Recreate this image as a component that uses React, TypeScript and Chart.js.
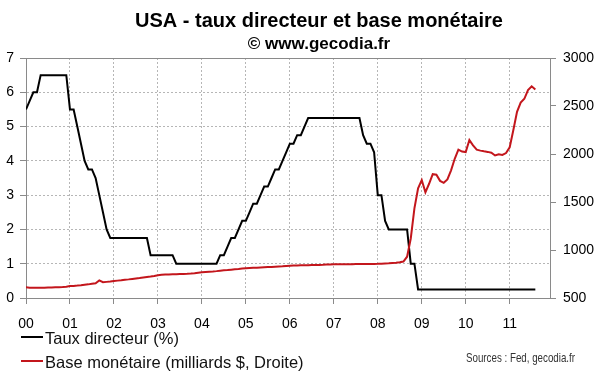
import React, { useEffect, useRef } from 'react';
import { Chart, registerables } from 'chart.js';

Chart.register(...registerables);

// ---------- DATA ----------
const START_YEAR = 2000;
const yearTicks = [2000, 2001, 2002, 2003, 2004, 2005, 2006, 2007, 2008, 2009, 2010, 2011];
const yearLabels = ['00', '01', '02', '03', '04', '05', '06', '07', '08', '09', '10', '11'];
const leftTicks = [0, 1, 2, 3, 4, 5, 6, 7];
const rightTicks = [500, 1000, 1500, 2000, 2500, 3000];

// Fed target rate (%), monthly, Jan 2000 -> Aug 2011
const taux2000 = [5.5, 5.75, 6.0, 6.0, 6.5, 6.5, 6.5, 6.5, 6.5, 6.5, 6.5, 6.5];
const taux2001 = [5.5, 5.5, 5.0, 4.5, 4.0, 3.75, 3.75, 3.5, 3.0, 2.5, 2.0, 1.75];
const taux2002 = [1.75, 1.75, 1.75, 1.75, 1.75, 1.75, 1.75, 1.75, 1.75, 1.75, 1.25, 1.25];
const taux2003 = [1.25, 1.25, 1.25, 1.25, 1.25, 1.0, 1.0, 1.0, 1.0, 1.0, 1.0, 1.0];
const taux2004 = [1.0, 1.0, 1.0, 1.0, 1.0, 1.25, 1.25, 1.5, 1.75, 1.75, 2.0, 2.25];
const taux2005 = [2.25, 2.5, 2.75, 2.75, 3.0, 3.25, 3.25, 3.5, 3.75, 3.75, 4.0, 4.25];
const taux2006 = [4.5, 4.5, 4.75, 4.75, 5.0, 5.25, 5.25, 5.25, 5.25, 5.25, 5.25, 5.25];
const taux2007 = [5.25, 5.25, 5.25, 5.25, 5.25, 5.25, 5.25, 5.25, 4.75, 4.5, 4.5, 4.25];
const taux2008 = [3.0, 3.0, 2.25, 2.0, 2.0, 2.0, 2.0, 2.0, 2.0, 1.0, 1.0, 0.25];
const taux2009 = [0.25, 0.25, 0.25, 0.25, 0.25, 0.25, 0.25, 0.25, 0.25, 0.25, 0.25, 0.25];
const taux2010 = [0.25, 0.25, 0.25, 0.25, 0.25, 0.25, 0.25, 0.25, 0.25, 0.25, 0.25, 0.25];
const taux2011 = [0.25, 0.25, 0.25, 0.25, 0.25, 0.25, 0.25, 0.25];

// Monetary base (billions $), monthly, Jan 2000 -> Aug 2011
const base2000 = [611, 608, 606, 607, 608, 607, 609, 610, 611, 612, 614, 618];
const base2001 = [624, 626, 629, 633, 638, 642, 648, 654, 683, 664, 668, 672];
const base2002 = [677, 681, 685, 690, 694, 699, 704, 708, 713, 718, 723, 730];
const base2003 = [738, 742, 744, 746, 747, 748, 749, 750, 752, 755, 759, 764];
const base2004 = [767, 770, 773, 776, 780, 785, 788, 791, 795, 799, 803, 808];
const base2005 = [810, 812, 814, 816, 818, 820, 822, 824, 826, 828, 830, 834];
const base2006 = [837, 838, 839, 840, 841, 842, 843, 844, 845, 846, 848, 850];
const base2007 = [851, 851, 851, 852, 852, 852, 853, 853, 853, 854, 854, 855];
const base2008 = [856, 858, 860, 862, 865, 868, 872, 880, 930, 1120, 1434, 1643];
const base2009 = [1729, 1600, 1690, 1790, 1785, 1720, 1700, 1735, 1830, 1950, 2045, 2025];
const base2010 = [2020, 2145, 2090, 2045, 2035, 2028, 2022, 2014, 1985, 1998, 1990, 2010];
const base2011 = [2070, 2250, 2440, 2535, 2575, 2665, 2705, 2672];

const tauxDirecteur = [
  ...taux2000, ...taux2001, ...taux2002, ...taux2003, ...taux2004, ...taux2005,
  ...taux2006, ...taux2007, ...taux2008, ...taux2009, ...taux2010, ...taux2011,
];
const baseMonetaire = [
  ...base2000, ...base2001, ...base2002, ...base2003, ...base2004, ...base2005,
  ...base2006, ...base2007, ...base2008, ...base2009, ...base2010, ...base2011,
];

const TITLE = 'USA - taux directeur et base monétaire';
const SUBTITLE = '© www.gecodia.fr';
const LEGEND_1 = 'Taux directeur (%)';
const LEGEND_2 = 'Base monétaire (milliards $, Droite)';
const SOURCES = 'Sources : Fed, gecodia.fr';

const FONT = '"Liberation Sans", Arial, Helvetica, sans-serif';
const BLACK = '#000000';
const RED = '#c3161c';
const AXIS = '#8a8a8a';
const GRID = '#b6b6b6';

const toPoints = (vals: number[]) => vals.map((v, i) => ({ x: START_YEAR + i / 12, y: v }));

const decorPlugin = {
  id: 'decor',
  afterDraw(chart: any) {
    const ctx = chart.ctx as CanvasRenderingContext2D;
    const ca = chart.chartArea;
    ctx.save();
    // top frame line
    ctx.strokeStyle = AXIS;
    ctx.lineWidth = 1;
    ctx.beginPath();
    ctx.moveTo(ca.left, Math.round(ca.top) + 0.5);
    ctx.lineTo(ca.right, Math.round(ca.top) + 0.5);
    ctx.stroke();

    // titles
    ctx.fillStyle = '#000';
    ctx.textAlign = 'center';
    ctx.textBaseline = 'alphabetic';
    ctx.font = `bold 20px ${FONT}`;
    ctx.fillText(TITLE, 319, 27);
    ctx.font = `bold 17px ${FONT}`;
    ctx.fillText(SUBTITLE, 319, 49);

    // legend
    ctx.textAlign = 'left';
    ctx.lineWidth = 2;
    ctx.strokeStyle = BLACK;
    ctx.beginPath();
    ctx.moveTo(21, 337);
    ctx.lineTo(43, 337);
    ctx.stroke();
    ctx.strokeStyle = RED;
    ctx.beginPath();
    ctx.moveTo(21, 361);
    ctx.lineTo(43, 361);
    ctx.stroke();
    ctx.fillStyle = '#111';
    ctx.font = `16.5px ${FONT}`;
    ctx.fillText(LEGEND_1, 45, 343.5);
    ctx.fillText(LEGEND_2, 45, 367.5);

    // sources (condensed)
    ctx.font = `13px "Liberation Sans Narrow", ${FONT}`;
    ctx.fillStyle = '#333';
    const w = ctx.measureText(SOURCES).width;
    const target = 109;
    const sx = w > target ? target / w : 1;
    ctx.translate(466, 362);
    ctx.scale(sx, 1);
    ctx.fillText(SOURCES, 0, 0);
    ctx.restore();
  },
};

export default function App() {
  const ref = useRef<HTMLCanvasElement | null>(null);

  useEffect(() => {
    document.body.style.margin = '0';
    const canvas = ref.current;
    if (!canvas) return;
    const tickFont = { family: FONT, size: 14 };
    const gridOpts = {
      color: GRID,
      lineWidth: 1,
      tickLength: 6,
      tickColor: AXIS,
      drawTicks: true,
      drawOnChartArea: true,
    };
    const chart = new Chart(canvas, {
      type: 'line',
      data: {
        datasets: [
          {
            label: LEGEND_2,
            data: toPoints(baseMonetaire),
            yAxisID: 'y1',
            borderColor: RED,
            backgroundColor: RED,
            borderWidth: 2,
            pointRadius: 0,
            tension: 0,
            order: 0,
          },
          {
            label: LEGEND_1,
            data: toPoints(tauxDirecteur),
            yAxisID: 'y',
            borderColor: BLACK,
            backgroundColor: BLACK,
            borderWidth: 2,
            pointRadius: 0,
            tension: 0,
            order: 1,
          },
        ],
      },
      options: {
        responsive: false,
        animation: false,
        devicePixelRatio: 1,
        layout: { padding: { top: 58, left: 0, right: 0, bottom: 0 } },
        plugins: {
          legend: { display: false },
          title: { display: false },
          tooltip: { enabled: false },
        },
        scales: {
          x: {
            type: 'linear',
            position: 'bottom',
            min: START_YEAR,
            max: 2011 + 11 / 12,
            afterBuildTicks: (s: any) => {
              s.ticks = yearTicks.map((v) => ({ value: v }));
            },
            afterFit: (s: any) => {
              s.height = 74;
            },
            ticks: {
              autoSkip: false,
              maxRotation: 0,
              padding: 12,
              color: '#000',
              font: tickFont,
              callback: (v: any) => {
                const i = yearTicks.indexOf(Number(v));
                return i >= 0 ? yearLabels[i] : '';
              },
            },
            grid: gridOpts,
            border: { display: true, color: AXIS, width: 1, dash: [2, 2] },
          },
          y: {
            type: 'linear',
            position: 'left',
            min: 0,
            max: 7,
            afterBuildTicks: (s: any) => {
              s.ticks = leftTicks.map((v) => ({ value: v }));
            },
            afterFit: (s: any) => {
              s.width = 26;
            },
            ticks: { padding: 6, color: '#000', font: tickFont, callback: (v: any) => String(v) },
            grid: gridOpts,
            border: { display: true, color: AXIS, width: 1, dash: [2, 2] },
          },
          y1: {
            type: 'linear',
            position: 'right',
            min: 500,
            max: 3000,
            afterBuildTicks: (s: any) => {
              s.ticks = rightTicks.map((v) => ({ value: v }));
            },
            afterFit: (s: any) => {
              s.width = 50;
            },
            ticks: { padding: 7, color: '#000', font: tickFont, callback: (v: any) => String(v) },
            grid: {
              drawOnChartArea: false,
              tickLength: 6,
              tickColor: AXIS,
              drawTicks: true,
            },
            border: { display: true, color: AXIS, width: 1 },
          },
        },
      },
      plugins: [decorPlugin],
    });
    return () => chart.destroy();
  }, []);

  return (
    <div style={{ position: 'absolute', left: 0, top: 0, width: 600, height: 372, background: '#fff' }}>
      <canvas ref={ref} width={600} height={372} style={{ display: 'block' }} />
    </div>
  );
}
